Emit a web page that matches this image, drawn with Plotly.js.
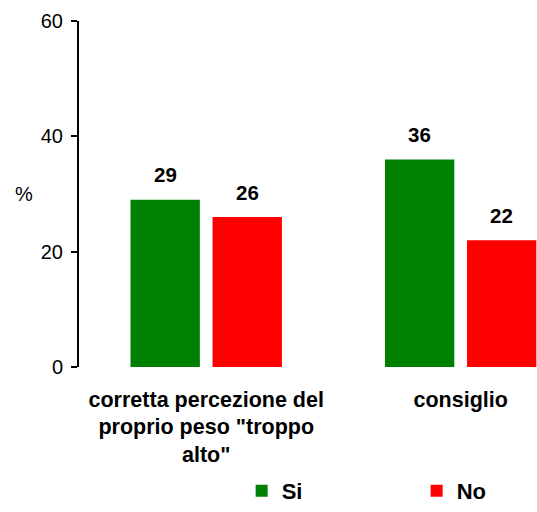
<!DOCTYPE html>
<html>
<head>
<meta charset="utf-8">
<script src="https://cdn.plot.ly/plotly-3.0.1.min.js"></script>
<style>html,body{margin:0;padding:0;background:#fff;}#chart{width:537px;height:512px;}</style>
</head>
<body>
<div id="chart"></div>
<script>
const categories = ['corretta percezione del<br>proprio peso "troppo<br>alto"', 'consiglio'];
const seriesNames = ['Si', 'No'];
const siValues = [29, 36];
const noValues = [26, 22];
const seriesColors = ['#008000', '#FF0000'];
const yTicks = [0, 20, 40, 60];

const FONT = 'Arial, "Liberation Sans", sans-serif';
const bargap = 0.355, bargroupgap = 0.155;
const slot = (1 - bargap) / 2;

const traces = [siValues, noValues].map((vals, i) => ({
  type: 'bar',
  name: seriesNames[i],
  x: categories,
  y: vals,
  marker: {color: seriesColors[i]},
  hoverinfo: 'skip'
}));

const annotations = [];
[siValues, noValues].forEach((vals, i) => {
  const off = (i === 0 ? -1 : 1) * slot / 2;
  vals.forEach((v, j) => {
    annotations.push({
      x: j + off, y: v, xref: 'x', yref: 'y',
      text: '<b>' + v + '</b>', showarrow: false,
      yanchor: 'middle', yshift: 25,
      font: {family: FONT, size: 20.5, color: '#000'}
    });
  });
});
annotations.push({
  x: (24 - 79) / 458, y: 0.5, xref: 'paper', yref: 'paper', xanchor: 'center', yanchor: 'middle',
  text: '%', showarrow: false, font: {family: FONT, size: 20, color: '#000'}
});

const layout = {
  width: 537, height: 512,
  margin: {l: 79, r: 0, t: 21, b: 145, pad: 0},
  paper_bgcolor: '#fff', plot_bgcolor: '#fff',
  barmode: 'group', bargap: bargap, bargroupgap: bargroupgap,
  font: {family: FONT, color: '#000'},
  showlegend: true,
  legend: {
    orientation: 'h', xref: 'container', yref: 'container',
    x: 0.450, xanchor: 'left', y: 0, yanchor: 'bottom',
    entrywidth: 130, entrywidthmode: 'pixels',
    font: {family: FONT, size: 22, color: '#000', weight: 'bold'},
    bgcolor: 'rgba(0,0,0,0)'
  },
  xaxis: {
    type: 'category', range: [-0.5, 1.3],
    showline: false, showgrid: false, zeroline: false, ticks: '',
    tickfont: {family: FONT, size: 21.5, color: '#000', weight: 'bold'},
    ticklabelstandoff: 17, fixedrange: true
  },
  yaxis: {
    range: [0, 60], tickvals: yTicks, ticktext: yTicks.map(String),
    showline: true, linecolor: '#000', linewidth: 2,
    ticks: 'outside', ticklen: 6, tickwidth: 2, tickcolor: '#000',
    showgrid: false, zeroline: false,
    tickfont: {family: FONT, size: 20, color: '#000'},
    ticklabelstandoff: 4, fixedrange: true
  },
  annotations: annotations
};

Plotly.newPlot('chart', traces, layout, {displayModeBar: false, staticPlot: true});
</script>
</body>
</html>
